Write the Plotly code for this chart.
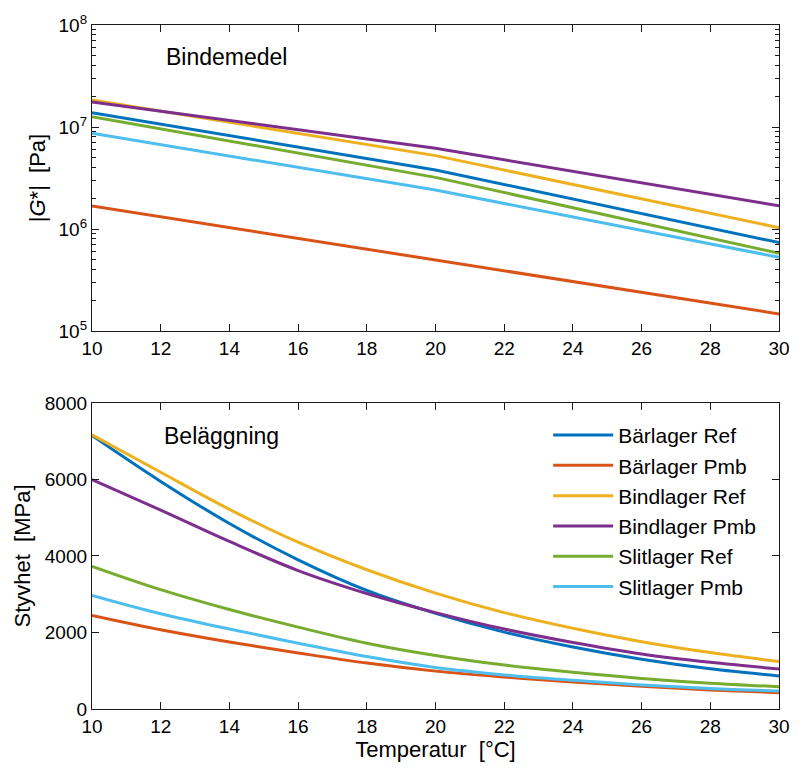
import plotly.graph_objects as go

# ---------------- data ----------------
series_names = ["Bärlager Ref", "Bärlager Pmb", "Bindlager Ref",
                "Bindlager Pmb", "Slitlager Ref", "Slitlager Pmb"]
colors = ["#0072BD", "#D95319", "#EDB120", "#7E2F8E", "#77AC30", "#4DBEEE"]

# Top panel: binder |G*| [Pa]
temp_binder = [10, 20, 30]
g_barlager_ref = [1.38e7, 3.79e6, 7.35e5]
g_barlager_pmb = [1.68e6, 4.97e5, 1.47e5]
g_bindlager_ref = [1.84e7, 5.24e6, 1.03e6]
g_bindlager_pmb = [1.76e7, 6.18e6, 1.69e6]
g_slitlager_ref = [1.26e7, 3.21e6, 5.78e5]
g_slitlager_pmb = [8.67e6, 2.41e6, 5.28e5]

# Bottom panel: mixture stiffness [MPa]
temp_mix = [10, 12, 14, 16, 18, 20, 22, 24, 26, 28, 30]
e_barlager_ref = [7150, 5950, 4850, 3900, 3100, 2500, 2010, 1620, 1300, 1050, 865]
e_barlager_pmb = [2445, 2070, 1750, 1465, 1200, 990, 835, 705, 595, 500, 425]
e_bindlager_ref = [7170, 6190, 5220, 4360, 3640, 3030, 2520, 2110, 1760, 1475, 1240]
e_bindlager_pmb = [5995, 5200, 4380, 3620, 3020, 2520, 2090, 1740, 1440, 1220, 1046]
e_slitlager_ref = [3730, 3120, 2600, 2140, 1720, 1400, 1150, 960, 800, 675, 584]
e_slitlager_pmb = [2970, 2490, 2090, 1720, 1370, 1085, 890, 750, 630, 535, 470]

x_ticks = [10, 12, 14, 16, 18, 20, 22, 24, 26, 28, 30]
log_tickvals = [1e5, 1e6, 1e7, 1e8]
log_ticktext = ["10<sup>5</sup>", "10<sup>6</sup>", "10<sup>7</sup>", "10<sup>8</sup>"]
lin_tickvals = [0, 2000, 4000, 6000, 8000]

top_series = [g_barlager_ref, g_barlager_pmb, g_bindlager_ref,
              g_bindlager_pmb, g_slitlager_ref, g_slitlager_pmb]
bottom_series = [e_barlager_ref, e_barlager_pmb, e_bindlager_ref,
                 e_bindlager_pmb, e_slitlager_ref, e_slitlager_pmb]

FONT = "Liberation Sans, Arial, Helvetica, sans-serif"

fig = go.Figure()
for name, col, vals in zip(series_names, colors, top_series):
    fig.add_trace(go.Scatter(x=temp_binder, y=vals, mode="lines", name=name,
                             line=dict(color=col, width=3), showlegend=False,
                             xaxis="x", yaxis="y"))
for name, col, vals in zip(series_names, colors, bottom_series):
    fig.add_trace(go.Scatter(x=temp_mix, y=vals, mode="lines", name=name,
                             line=dict(color=col, width=3, shape="spline", smoothing=1.0),
                             showlegend=True, xaxis="x2", yaxis="y2"))

minor_vals = []
for dec in [1e5, 1e6, 1e7]:
    for k in range(2, 10):
        minor_vals.append(k * dec)

axis_common = dict(showgrid=False, zeroline=False, showline=True, linecolor="#1a1a1a",
                   linewidth=1.3, mirror="allticks", ticks="inside", ticklen=7,
                   tickcolor="#1a1a1a", tickwidth=1,
                   tickfont=dict(family=FONT, size=19, color="black"))

fig.update_layout(
    width=802, height=769,
    margin=dict(l=92, r=13, t=25, b=60),
    paper_bgcolor="white", plot_bgcolor="white",
    font=dict(family=FONT, color="black"),
    xaxis=dict(domain=[0, 1], anchor="y", range=[10, 30], tickvals=x_ticks, **axis_common),
    yaxis=dict(domain=[0.5526, 1], anchor="x", type="log", range=[5, 8],
               tickvals=log_tickvals, ticktext=log_ticktext,
               minor=dict(tickvals=minor_vals, ticks="inside", ticklen=4,
                          tickcolor="#1a1a1a", showgrid=False),
               title=dict(text="|<i>G</i>*|\u00a0 [Pa]", font=dict(family=FONT, size=22),
                          standoff=6),
               **axis_common),
    xaxis2=dict(domain=[0, 1], anchor="y2", range=[10, 30], tickvals=x_ticks,
                title=dict(text="Temperatur\u00a0 [°C]", font=dict(family=FONT, size=22),
                           standoff=2),
                **axis_common),
    yaxis2=dict(domain=[0, 0.4474], anchor="x2", range=[0, 8000], tickvals=lin_tickvals,
                title=dict(text="Styvhet\u00a0 [MPa]", font=dict(family=FONT, size=22),
                           standoff=8),
                **axis_common),
    legend=dict(x=0.664, y=0.43, xanchor="left", yanchor="top",
                bgcolor="rgba(0,0,0,0)", borderwidth=0,
                font=dict(family=FONT, size=21, color="black"),
                itemwidth=60),
    annotations=[
        dict(text="Bindemedel", xref="x domain", yref="y domain", x=0.105, y=0.895,
             xanchor="left", yanchor="middle", showarrow=False,
             font=dict(family=FONT, size=23, color="black")),
        dict(text="Beläggning", xref="x2 domain", yref="y2 domain", x=0.102, y=0.892,
             xanchor="left", yanchor="middle", showarrow=False,
             font=dict(family=FONT, size=23, color="black")),
    ],
)

fig.write_html("out.html")
